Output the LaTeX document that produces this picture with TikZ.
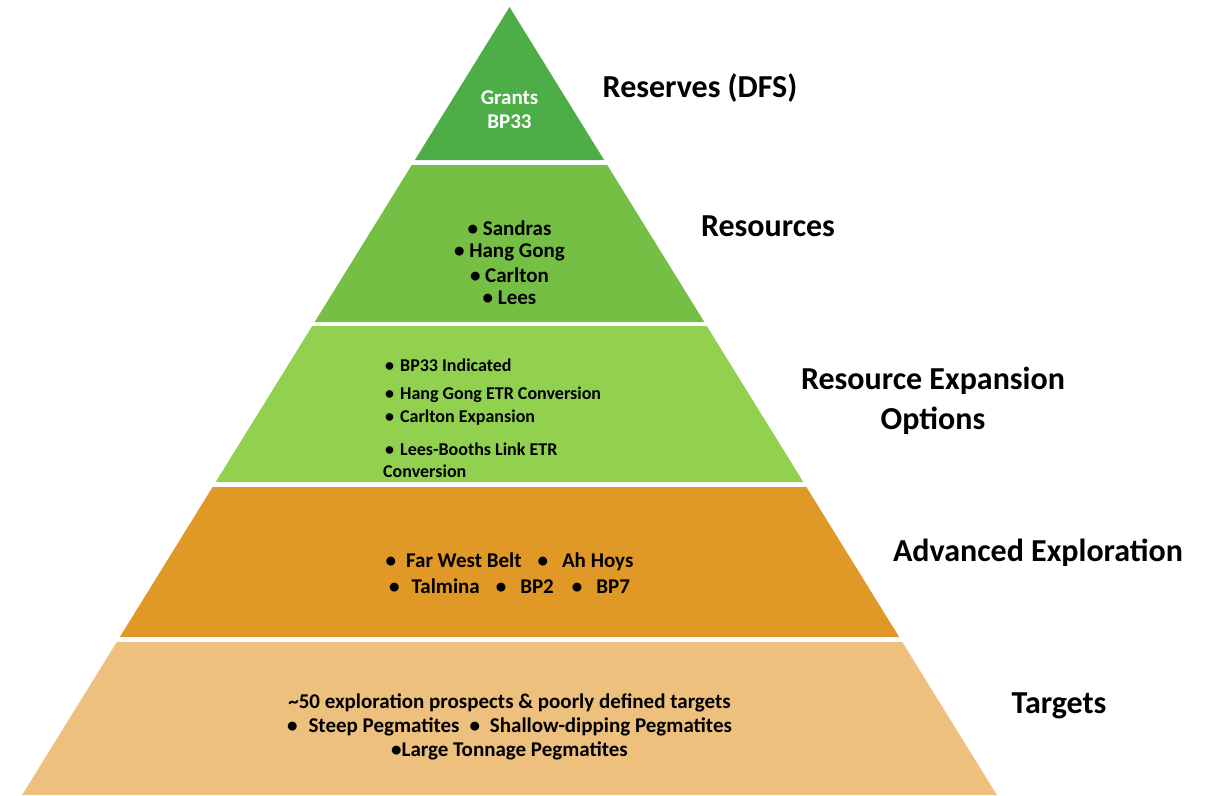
\documentclass[tikz,border=0pt]{standalone}
\usepackage{fontspec}
\setmainfont{Carlito}
\definecolor{lvlA}{HTML}{4DAE48}
\definecolor{lvlB}{HTML}{76BF45}
\definecolor{lvlC}{HTML}{92D050}
\definecolor{lvlD}{HTML}{E09826}
\definecolor{lvlE}{HTML}{EDC07E}
\tikzset{
  side/.style={font=\bfseries\fontsize{32}{40}\selectfont, align=center},
  inner/.style={font=\bfseries\fontsize{21}{25}\selectfont, inner sep=0pt},
  small/.style={font=\bfseries\fontsize{18}{22}\selectfont, inner sep=0pt, anchor=west},
}
\begin{document}
\begin{tikzpicture}[x=1pt,y=-1pt]
\def\ax{509.5}
\def\sl{0.6185}
\useasboundingbox (0,0) rectangle (1206,795);
% pyramid levels: top y / bottom y / colour
\foreach \t/\b/\c in {7/160/lvlA, 165/322/lvlB, 326/482/lvlC, 487/637/lvlD, 642/795/lvlE}
  \fill[\c] ({\ax-\sl*(\t-7)},\t) -- ({\ax+\sl*(\t-7)},\t) -- ({\ax+\sl*(\b-7)},\b) -- ({\ax-\sl*(\b-7)},\b) -- cycle;
% level 1
\node[inner,white] (grants) at (\ax,98) {Grants};
\node[inner,white] (bpA) at (\ax,122) {BP33};
% level 2
\node[inner] (sandras) at (\ax,228) {• Sandras};
\node[inner] (hang) at (\ax,252) {• Hang Gong};
\node[inner] (carlton) at (\ax,275) {• Carlton};
\node[inner] (lees) at (\ax,298) {• Lees};
% level 3
\node[small] (ind) at (385,365) {•\hspace{6pt}BP33 Indicated};
\node[small] (etr) at (385,395) {•\hspace{6pt}Hang Gong ETR Conversion};
\node[small] (exp) at (385,418) {•\hspace{6pt}Carlton Expansion};
\node[small] (link) at (385,449) {•\hspace{6pt}Lees-Booths Link ETR};
\node[small] (conv) at (383,471) {Conversion};
% level 4
\node[inner] (belt) at (\ax,562) {•\hspace{10pt}Far West Belt\hspace{16pt}•\hspace{14pt}Ah Hoys};
\node[inner] (tal) at (\ax,586) {•\hspace{12pt}Talmina\hspace{16pt}•\hspace{14pt}BP2\hspace{18pt}•\hspace{14pt}BP7};
% level 5
\node[inner] (pros) at (\ax,703) {{\char`\~}50 exploration prospects \& poorly defined targets};
\node[inner] (steep) at (\ax,727) {•\hspace{11pt}Steep Pegmatites\hspace{10pt}•\hspace{10pt}Shallow-dipping Pegmatites};
\node[inner] (large) at (\ax,751) {•Large Tonnage Pegmatites};
% side labels
\node[side] (res) at (700,88) {Reserves (DFS)};
\node[side] (rsc) at (768,226) {Resources};
\node[side] (opt) at (933,401) {Resource Expansion\\Options};
\node[side] (adv) at (1038,553) {Advanced Exploration};
\node[side] (tgt) at (1059,706) {Targets};
\end{tikzpicture}
\end{document}
